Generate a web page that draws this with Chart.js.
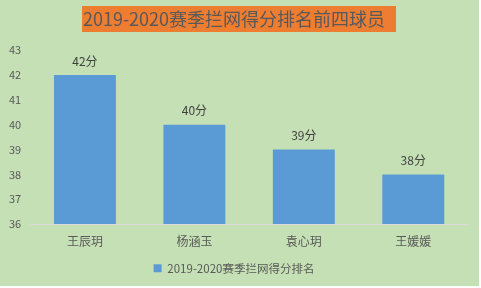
<!DOCTYPE html>
<html><head><meta charset="utf-8">
<script src="https://cdn.jsdelivr.net/npm/chart.js@4.4.0/dist/chart.umd.min.js"></script>
<style>
html,body{margin:0;padding:0;background:#fff;}
#wrap{width:479px;height:286px;background:#C5E0B4;}
</style></head>
<body>
<div id="wrap"><canvas id="c" width="479" height="286"></canvas></div>
<script>
const categories = ['王辰玥', '杨涵玉', '袁心玥', '王媛媛'];
const values = [42, 40, 39, 38];
const seriesName = '2019-2020赛季拦网得分排名';
const titleText = '2019-2020赛季拦网得分排名前四球员';
const unit = '分';

const FONT = "'Microsoft YaHei','Noto Sans CJK SC',sans-serif";

const titleBox = {
  id: 'titleBox',
  beforeDraw(chart) {
    const ctx = chart.ctx;
    ctx.save();
    ctx.font = "18px " + FONT;
    const w = ctx.measureText(titleText).width;
    const cx = chart.width / 2;
    ctx.fillStyle = '#ED7D31';
    ctx.fillRect(Math.round(cx - w / 2 - 6), 6, Math.round(w + 12), 26);
    ctx.restore();
  }
};

const dataLabels = {
  id: 'dataLabels',
  afterDatasetsDraw(chart) {
    const ctx = chart.ctx;
    const meta = chart.getDatasetMeta(0);
    ctx.save();
    ctx.font = "12px " + FONT;
    ctx.fillStyle = '#404040';
    ctx.textAlign = 'center';
    ctx.textBaseline = 'middle';
    meta.data.forEach((bar, i) => {
      ctx.fillText(values[i] + unit, bar.x, bar.y - 14);
    });
    ctx.restore();
  }
};

new Chart(document.getElementById('c'), {
  type: 'bar',
  data: {
    labels: categories,
    datasets: [{
      label: seriesName,
      data: values,
      backgroundColor: '#5B9BD5',
      borderWidth: 0,
      barPercentage: 0.566,
      categoryPercentage: 1.0
    }]
  },
  options: {
    responsive: false,
    animation: false,
    devicePixelRatio: 1,
    layout: { padding: { left: 0, right: 11, top: 0, bottom: 2 } },
    plugins: {
      title: {
        display: true,
        text: titleText,
        color: '#595959',
        font: { family: FONT, size: 18, weight: 'normal', lineHeight: 1.45 },
        padding: { top: 6, bottom: 18 }
      },
      legend: {
        position: 'bottom',
        labels: {
          color: '#595959',
          font: { family: FONT, size: 11.5 },
          boxWidth: 8,
          boxHeight: 8,
          padding: 13
        }
      },
      tooltip: { enabled: false }
    },
    scales: {
      x: {
        grid: { display: false, drawTicks: false },
        border: { display: true, color: '#D9D9D9', width: 1 },
        ticks: { color: '#595959', font: { family: FONT, size: 12 }, padding: 10 },
        afterFit: (scale) => { scale.height = scale.height - 9; }
      },
      y: {
        min: 36, max: 43,
        grid: { display: false, drawTicks: false },
        border: { display: false },
        ticks: { stepSize: 1, color: '#595959', font: { family: FONT, size: 11 }, padding: 9 }
      }
    }
  },
  plugins: [titleBox, dataLabels]
});
</script>
</body></html>
